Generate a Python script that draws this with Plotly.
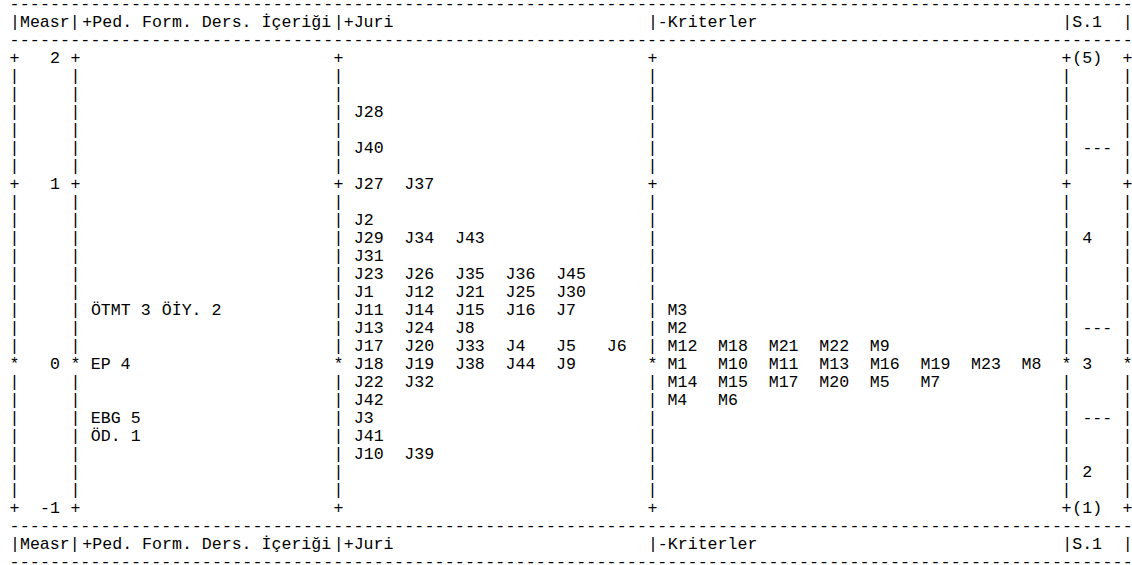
import math
import plotly.graph_objects as go

# ---------------- data ----------------
# header segments and the column where each starts
header_tokens = ["|Measr|", "+Ped. Form. Ders. İçeriği", "|+Juri", "|-Kriterler", "|S.1", "|"]
header_cols = [0, 7, 32, 63, 104, 110]

# measure ruler (rows counted from the "2" line downwards)
measure_labels = ["2", "1", "0", "-1"]
measure_rows = [0, 7, 17, 25]
measure_marks = ["+", "+", "*", "+"]

# Ped. Form. Ders. İçeriği facet
ped_labels = [["ÖTMT 3", "ÖİY. 2"], ["EP 4"], ["EBG 5"], ["ÖD. 1"]]
ped_rows = [14, 17, 20, 21]

# Juri facet
juri_labels = [["J28"], ["J40"], ["J27", "J37"], ["J2"], ["J29", "J34", "J43"], ["J31"],
               ["J23", "J26", "J35", "J36", "J45"], ["J1", "J12", "J21", "J25", "J30"],
               ["J11", "J14", "J15", "J16", "J7"], ["J13", "J24", "J8"],
               ["J17", "J20", "J33", "J4", "J5", "J6"], ["J18", "J19", "J38", "J44", "J9"],
               ["J22", "J32"], ["J42"], ["J3"], ["J41"], ["J10", "J39"]]
juri_rows = [3, 5, 7, 9, 10, 11, 12, 13, 14, 15, 16, 17, 18, 19, 20, 21, 22]

# Kriterler facet
kriter_labels = [["M3"], ["M2"], ["M12", "M18", "M21", "M22", "M9"],
                 ["M1", "M10", "M11", "M13", "M16", "M19", "M23", "M8"],
                 ["M14", "M15", "M17", "M20", "M5", "M7"], ["M4", "M6"]]
kriter_rows = [14, 15, 16, 17, 18, 19]

# rating scale S.1
scale_labels = ["(5)", "---", "4", "---", "3", "---", "2", "(1)"]
scale_rows = [0, 5, 10, 15, 17, 20, 23, 25]
scale_cols = [105, 106, 106, 106, 106, 106, 106, 105]

# ---------------- layout of the text grid ----------------
N_COLS = 111
border_cols = [0, 6, 32, 63, 104, 110]
ped_cols = [8, 15]
juri_start, kriter_start, entry_step = 34, 65, 5
measure_end_col = 4
first_row, last_row = 0, 25
rule_rows = [-3, -1, 26, 28]
header_rows = [-2, 27]

W, H = 1132, 565
col0_px, col_w = 14.5, 10.12      # pixel centre of column 0, column pitch
row0_px, row_h = 59.0, 18.0       # pixel centre of the "2" line, line pitch

FONT = dict(family="Liberation Mono, DejaVu Sans Mono, monospace", size=16.6, color="#000000")

xs, ys, ts = [], [], []


def col_to_x(c, snap=False):
    px = col0_px + c * col_w
    if snap:
        px = math.floor(px) + 0.5
    return (px - col0_px) / col_w


def put(text, col, row, snap=False):
    # centre each token on its monospace column span
    xs.append(col_to_x(col + (len(text) - 1) / 2.0, snap))
    ys.append(row)
    ts.append(text)


# dashed rules
for r in rule_rows:
    for c in range(N_COLS):
        put("-", c, r)

# headers
for r in header_rows:
    for t, c in zip(header_tokens, header_cols):
        put(t, c, r)

# ruler borders
tick_map = dict(zip(measure_rows, measure_marks))
for r in range(first_row, last_row + 1):
    ch = tick_map.get(r, "|")
    for c in border_cols:
        put(ch, c, r, snap=True)

# measure numbers (right aligned)
for lab, r in zip(measure_labels, measure_rows):
    put(lab, measure_end_col - len(lab) + 1, r)

# facets
for labs, r in zip(ped_labels, ped_rows):
    for lab, c in zip(labs, ped_cols):
        put(lab, c, r)
for labs, r in zip(juri_labels, juri_rows):
    for k, lab in enumerate(labs):
        put(lab, juri_start + k * entry_step, r)
for labs, r in zip(kriter_labels, kriter_rows):
    for k, lab in enumerate(labs):
        put(lab, kriter_start + k * entry_step, r)
for lab, r, c in zip(scale_labels, scale_rows, scale_cols):
    put(lab, c, r)

fig = go.Figure(go.Scatter(x=xs, y=ys, text=ts, mode="text",
                           textposition="middle center", textfont=FONT,
                           hoverinfo="skip", showlegend=False, cliponaxis=False))

fig.update_layout(
    width=W, height=H, margin=dict(l=0, r=0, t=0, b=0),
    paper_bgcolor="white", plot_bgcolor="white",
    xaxis=dict(visible=False, range=[-col0_px / col_w, (W - col0_px) / col_w], fixedrange=True),
    yaxis=dict(visible=False, range=[(H - row0_px) / row_h, -row0_px / row_h], fixedrange=True),
)
fig.write_html("out.html", config={"displayModeBar": False},
               post_script="document.body.style.margin='0';")
